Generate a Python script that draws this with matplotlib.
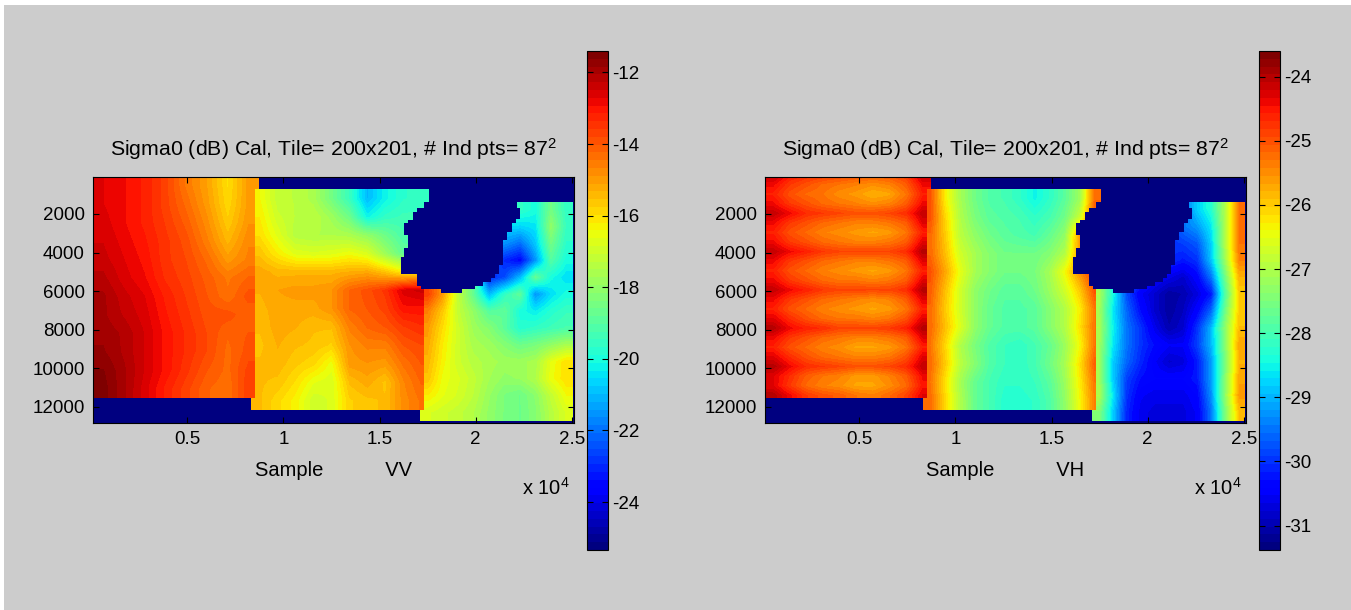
import matplotlib
matplotlib.use("Agg")
import matplotlib.pyplot as plt
from matplotlib.patches import Polygon, Rectangle

plt.rcParams['font.family'] = ['Liberation Sans']
plt.rcParams['mathtext.default'] = 'regular'

BG = '#cccccc'
TICK_FONT = 13.5
LABEL_FONT = 14.5
TITLE_FONT = 15.3

x_ticks = [5000, 10000, 15000, 20000, 25000]
x_tick_labels = ['0.5', '1', '1.5', '2', '2.5']
y_ticks = [2000, 4000, 6000, 8000, 10000, 12000]
vv_ticks = [-12, -14, -16, -18, -20, -22, -24]
vh_ticks = [-24, -25, -26, -27, -28, -29, -30, -31]
vv_range = (-25.34, -11.4)
vh_range = (-31.38, -23.6)

# swath outlines, sample / line
s1_x = [114, 8708, 8708, 114]
s1_y = [83, 83, 11550, 11550]
s2_x = [8500, 17560, 17560, 17333, 17333, 8293, 8293, 8500]
s2_y = [722, 722, 1361, 1361, 12154, 12154, 11550, 11550]
s3_x = [17700, 25076, 25076, 17108, 17108, 17333, 17333, 17700]
s3_y = [1361, 1361, 12759, 12759, 12154, 12154, 5800, 5800]

# no-data hole left by the blanked area
hole_x = [17560, 17560, 17350, 17350, 16935, 16935, 16727, 16727, 16502, 16502, 16294, 16294,
          16502, 16502, 16294, 16294, 16104, 16104, 16935, 16935, 17143, 17143, 18182, 18182,
          19308, 19308, 19966, 19966, 20365, 20365, 20797, 20797, 21005, 21005, 21231, 21231,
          21438, 21438, 21646, 21646, 21871, 21871, 22079, 22079, 22304, 22304, 22131, 22131]
hole_y = [722, 1361, 1361, 1706, 1706, 1913, 1913, 2310, 2310, 2483, 2483, 3088,
          3088, 3778, 3778, 4245, 4245, 5108, 5108, 5713, 5713, 5903, 5903, 6110,
          6110, 5903, 5903, 5713, 5713, 5505, 5505, 5298, 5298, 5108, 5108, 4642,
          4642, 3347, 3347, 2915, 2915, 2483, 2483, 2276, 2276, 1706, 1706, 722]

vv_s1 = [
    [-12.7, -12.9, -13.2, -13.7, -14.5, -15.1, -16.0, -15.0],
    [-12.7, -12.9, -13.2, -13.7, -14.3, -15.0, -15.9, -15.0],
    [-12.6, -12.9, -13.2, -13.6, -14.1, -14.8, -15.7, -14.9],
    [-12.5, -12.8, -13.1, -13.5, -13.9, -14.6, -15.4, -14.7],
    [-12.4, -12.7, -13.0, -13.5, -13.8, -14.3, -15.0, -14.6],
    [-12.2, -12.6, -12.9, -13.4, -13.7, -14.1, -14.5, -14.2],
    [-12.0, -12.4, -12.7, -13.2, -13.6, -14.0, -14.4, -13.9],
    [-12.0, -12.3, -12.6, -13.1, -13.5, -13.9, -13.9, -14.2],
    [-11.9, -12.1, -12.5, -13.0, -13.4, -13.8, -14.2, -14.0],
    [-11.8, -12.1, -12.5, -13.0, -13.4, -13.8, -14.3, -13.9],
    [-11.6, -12.0, -12.5, -13.0, -13.5, -14.0, -14.3, -13.7],
    [-11.5, -12.0, -12.6, -13.2, -13.7, -14.2, -14.4, -13.6],
]
vv_s2 = [
    [-16.4, -17.2, -17.3, -17.6, -18.5, -19.5, -21.0, -20.2, -19.7, -19.6],
    [-16.2, -17.0, -17.3, -17.3, -17.8, -18.6, -20.2, -19.6, -19.4, -19.4],
    [-16.0, -16.7, -17.4, -17.5, -17.5, -17.6, -18.0, -18.6, -19.2, -19.2],
    [-15.6, -16.2, -16.7, -16.8, -16.7, -16.5, -16.8, -17.8, -18.8, -19.0],
    [-15.2, -15.4, -15.4, -15.4, -15.4, -15.3, -15.2, -15.6, -16.2, -16.0],
    [-15.3, -15.1, -15.0, -15.0, -14.9, -14.2, -13.9, -13.5, -12.6, -12.4],
    [-15.4, -15.2, -15.2, -15.2, -14.9, -14.2, -14.0, -13.7, -13.0, -13.0],
    [-15.5, -15.2, -15.3, -15.5, -15.5, -14.6, -14.2, -14.0, -13.6, -13.4],
    [-15.6, -15.3, -15.5, -15.6, -15.8, -14.9, -14.6, -14.6, -14.0, -13.8],
    [-15.5, -15.4, -15.7, -15.9, -16.5, -15.0, -14.9, -15.0, -14.4, -14.0],
    [-15.5, -15.6, -16.0, -16.6, -16.8, -15.5, -15.2, -15.6, -14.7, -14.2],
    [-15.5, -15.9, -16.3, -17.0, -16.8, -15.8, -15.6, -15.5, -14.8, -14.4],
]
vv_s3 = [
    [-14.0, -15.0, -17.0, -19.0, -20.0, -20.0, -19.6, -20.0, -18.5, -19.6],
    [-14.0, -15.0, -17.0, -19.0, -20.5, -20.5, -20.6, -20.4, -18.0, -19.5],
    [-14.0, -15.0, -17.0, -19.0, -21.0, -21.5, -22.0, -20.8, -18.5, -19.7],
    [-14.0, -15.0, -17.0, -19.0, -22.0, -23.0, -23.5, -21.5, -19.0, -20.0],
    [-14.0, -15.0, -17.0, -19.0, -23.0, -22.5, -21.0, -18.7, -20.0, -20.5],
    [-13.6, -15.0, -17.2, -18.8, -21.0, -19.6, -18.8, -21.5, -20.5, -20.0],
    [-14.6, -15.7, -17.2, -18.0, -19.0, -18.8, -20.0, -20.3, -19.8, -19.5],
    [-15.0, -16.0, -17.0, -17.8, -18.2, -18.9, -19.8, -19.6, -19.4, -19.2],
    [-15.2, -16.2, -17.0, -17.6, -17.8, -18.2, -18.6, -18.4, -18.0, -17.6],
    [-15.4, -16.3, -17.0, -17.4, -17.6, -17.8, -17.8, -17.6, -16.6, -16.0],
    [-15.6, -16.5, -16.8, -17.2, -17.7, -18.0, -17.9, -17.5, -16.5, -16.0],
    [-16.2, -16.6, -16.9, -17.3, -17.9, -18.4, -18.6, -18.1, -17.2, -16.4],
    [-16.8, -17.0, -17.2, -17.5, -18.0, -18.4, -18.6, -18.2, -17.4, -16.8],
]

# first swath of VH has dark stripes every fourth row, so it runs past the top of the axes
vh_s1_extent = (114, 8708, 11647, -270)
vh_s1 = [
    [-24.1, -24.5, -24.7, -24.8, -24.9, -25.0, -25.1, -25.0, -24.8, -24.1],
    [-24.4, -24.8, -25.0, -25.2, -25.3, -25.4, -25.5, -25.4, -25.1, -24.4],
    [-24.6, -25.0, -25.2, -25.3, -25.5, -25.6, -25.8, -25.7, -25.3, -24.6],
    [-24.4, -24.8, -25.0, -25.2, -25.3, -25.4, -25.5, -25.4, -25.1, -24.4],
    [-24.1, -24.4, -24.7, -24.8, -24.9, -25.0, -25.0, -24.9, -24.7, -24.1],
    [-24.4, -24.8, -25.0, -25.2, -25.3, -25.4, -25.4, -25.3, -25.1, -24.3],
    [-24.6, -25.0, -25.2, -25.4, -25.5, -25.6, -25.7, -25.6, -25.3, -24.6],
    [-24.4, -24.8, -25.0, -25.2, -25.3, -25.4, -25.4, -25.3, -25.1, -24.3],
    [-24.1, -24.4, -24.6, -24.8, -24.9, -24.9, -24.9, -24.9, -24.7, -24.0],
    [-24.4, -24.8, -25.0, -25.2, -25.3, -25.4, -25.4, -25.3, -25.1, -24.3],
    [-24.6, -25.0, -25.2, -25.4, -25.5, -25.6, -25.7, -25.6, -25.3, -24.6],
    [-24.4, -24.8, -25.0, -25.2, -25.3, -25.3, -25.4, -25.3, -25.1, -24.3],
    [-24.1, -24.4, -24.6, -24.8, -24.9, -24.9, -24.9, -24.9, -24.7, -24.0],
    [-24.4, -24.8, -25.0, -25.2, -25.3, -25.4, -25.5, -25.4, -25.1, -24.3],
    [-24.6, -25.0, -25.2, -25.4, -25.5, -25.6, -25.7, -25.6, -25.3, -24.6],
    [-24.3, -24.7, -25.0, -25.2, -25.3, -25.3, -25.4, -25.3, -25.0, -24.3],
    [-24.0, -24.4, -24.6, -24.7, -24.9, -24.9, -24.9, -24.8, -24.6, -24.0],
    [-24.4, -24.8, -25.0, -25.2, -25.3, -25.4, -25.4, -25.3, -25.1, -24.3],
    [-24.6, -25.0, -25.2, -25.4, -25.5, -25.7, -25.7, -25.6, -25.3, -24.6],
    [-24.3, -24.7, -25.0, -25.2, -25.3, -25.4, -25.4, -25.3, -25.0, -24.3],
    [-24.0, -24.4, -24.7, -24.8, -24.9, -25.0, -25.0, -24.9, -24.7, -24.1],
    [-24.3, -24.7, -25.1, -25.3, -25.4, -25.6, -25.6, -25.4, -25.1, -24.4],
    [-24.3, -24.8, -25.2, -25.4, -25.5, -25.7, -25.7, -25.5, -25.2, -24.5],
    [-24.0, -24.4, -24.8, -25.0, -25.1, -25.3, -25.4, -25.2, -24.9, -24.3],
]
vh_s2 = [
    [-25.0, -26.3, -27.1, -27.6, -27.9, -28.0, -28.2, -28.5, -28.2, -27.8, -27.2, -25.2],
    [-25.0, -26.1, -27.0, -27.5, -27.8, -27.9, -28.0, -28.2, -28.0, -27.6, -26.8, -25.0],
    [-25.2, -26.0, -26.9, -27.3, -27.6, -27.8, -27.9, -28.0, -27.7, -27.3, -25.6, -25.0],
    [-25.2, -25.9, -26.7, -27.1, -27.4, -27.6, -27.6, -27.6, -27.4, -27.0, -25.6, -25.0],
    [-25.0, -25.7, -26.5, -27.1, -27.4, -27.6, -27.6, -27.5, -27.1, -26.4, -25.5, -24.8],
    [-25.1, -25.9, -26.7, -27.3, -27.6, -27.8, -27.8, -27.6, -27.2, -26.7, -26.0, -25.0],
    [-25.2, -26.0, -26.7, -27.3, -27.7, -27.9, -27.9, -27.8, -27.4, -27.0, -26.3, -25.3],
    [-25.2, -25.9, -26.6, -27.3, -27.7, -27.9, -27.9, -27.8, -27.4, -27.0, -26.2, -25.3],
    [-25.3, -26.1, -27.0, -27.5, -27.9, -28.1, -28.2, -28.0, -27.7, -27.2, -26.4, -25.3],
    [-25.2, -26.0, -26.9, -27.4, -27.9, -28.1, -28.2, -28.0, -27.6, -27.1, -26.2, -25.1],
    [-25.3, -26.2, -27.1, -27.7, -28.0, -28.2, -28.2, -28.1, -27.8, -27.2, -26.3, -25.3],
    [-25.2, -26.1, -27.0, -27.7, -28.0, -28.3, -28.3, -28.2, -27.9, -27.3, -26.4, -25.4],
]
vh_s3 = [
    [-27.0, -28.5, -29.5, -30.0, -30.0, -30.0, -29.6, -28.8, -28.3, -27.0, -25.3],
    [-27.0, -28.5, -29.5, -30.0, -30.0, -30.0, -29.5, -29.2, -28.6, -27.0, -25.3],
    [-27.0, -28.5, -29.5, -30.0, -30.0, -30.0, -29.9, -29.7, -28.8, -27.0, -25.3],
    [-27.0, -28.5, -29.5, -30.0, -30.0, -30.0, -30.2, -30.0, -28.9, -27.2, -25.4],
    [-27.1, -28.5, -29.5, -30.0, -30.4, -30.6, -30.8, -30.4, -29.5, -27.6, -25.8],
    [-27.0, -28.4, -29.8, -30.5, -30.8, -31.1, -31.0, -30.7, -30.2, -27.9, -26.0],
    [-27.1, -28.6, -29.6, -30.3, -30.8, -31.1, -30.9, -30.4, -29.6, -27.6, -26.0],
    [-27.0, -28.5, -29.5, -30.0, -30.6, -31.0, -30.8, -30.0, -29.0, -27.3, -25.9],
    [-27.1, -28.6, -29.5, -30.0, -30.3, -30.5, -30.5, -29.9, -29.0, -27.4, -25.7],
    [-27.1, -28.8, -29.6, -30.1, -30.5, -30.8, -30.7, -30.2, -29.2, -27.5, -25.8],
    [-27.1, -28.8, -29.9, -30.3, -30.4, -30.4, -30.4, -30.2, -29.2, -27.4, -25.7],
    [-27.0, -28.6, -30.0, -30.5, -30.6, -30.6, -30.6, -30.4, -29.3, -27.3, -25.6],
    [-27.4, -28.8, -30.1, -30.6, -30.7, -30.7, -30.7, -30.5, -29.5, -27.5, -25.9],
]


def swath(ax, grid, xs, ys, vrange, cmap, extent=None):
    if extent is None:
        extent = (min(xs), max(xs), max(ys), min(ys))
    im = ax.imshow(grid, extent=extent, origin='upper', aspect='auto', cmap=cmap,
                   vmin=vrange[0], vmax=vrange[1], interpolation='bilinear')
    im.set_clip_path(Polygon(list(zip(xs, ys)), transform=ax.transData))
    return im


def panel(fig, left, grids, vrange, cticks, name, s1_extent=None):
    cmap = plt.get_cmap('jet', 64)
    ax = fig.add_axes([left / 1351, 1 - 423 / 610, 481 / 1351, 246 / 610])
    ax.set_facecolor(cmap(0))
    swath(ax, grids[0], s1_x, s1_y, vrange, cmap, s1_extent)
    swath(ax, grids[1], s2_x, s2_y, vrange, cmap)
    im = swath(ax, grids[2], s3_x, s3_y, vrange, cmap)
    ax.add_patch(Polygon(list(zip(hole_x, hole_y)), closed=True, fc=cmap(0), ec='none', zorder=3))
    ax.set_xlim(100, 25110)
    ax.set_ylim(12845, 83)
    ax.set_xticks(x_ticks, x_tick_labels)
    ax.set_yticks(y_ticks, [str(v) for v in y_ticks])
    ax.tick_params(direction='in', top=True, right=True, length=4, width=0.8,
                   labelsize=TICK_FONT, pad=6, zorder=5)
    ax.set_axisbelow(False)
    ax.set_title('Sigma0 (dB) Cal, Tile= 200x201, # Ind pts= 87$^2$', fontsize=TITLE_FONT, pad=15)
    ax.set_xlabel('Sample           ' + name, fontsize=LABEL_FONT, labelpad=9)
    ax.text(0.892, -0.262, 'x 10$^4$', transform=ax.transAxes, fontsize=LABEL_FONT, va='center')
    for sp in ax.spines.values():
        sp.set_linewidth(0.8)

    cax = fig.add_axes([(left + 494) / 1351, 1 - 550 / 610, 21 / 1351, 499 / 610])
    cb = fig.colorbar(im, cax=cax)
    cb.set_ticks(cticks)
    cb.set_ticklabels([str(v) for v in cticks])
    cax.tick_params(direction='in', left=True, right=True, length=4, width=0.8,
                    labelsize=TICK_FONT, pad=3)
    cb.outline.set_linewidth(0.8)


fig = plt.figure(figsize=(13.51, 6.10), dpi=100, facecolor=BG)
# white scan edge round the grey window
fig.add_artist(Rectangle((0, 0), 4 / 1351, 1, transform=fig.transFigure, fc='white', ec='none'))
fig.add_artist(Rectangle((0, 1 - 5 / 610), 1, 5 / 610, transform=fig.transFigure, fc='white', ec='none'))

panel(fig, 93, (vv_s1, vv_s2, vv_s3), vv_range, vv_ticks, 'VV')
panel(fig, 765, (vh_s1, vh_s2, vh_s3), vh_range, vh_ticks, 'VH', vh_s1_extent)

fig.savefig('out.png', dpi=100, facecolor=BG)
